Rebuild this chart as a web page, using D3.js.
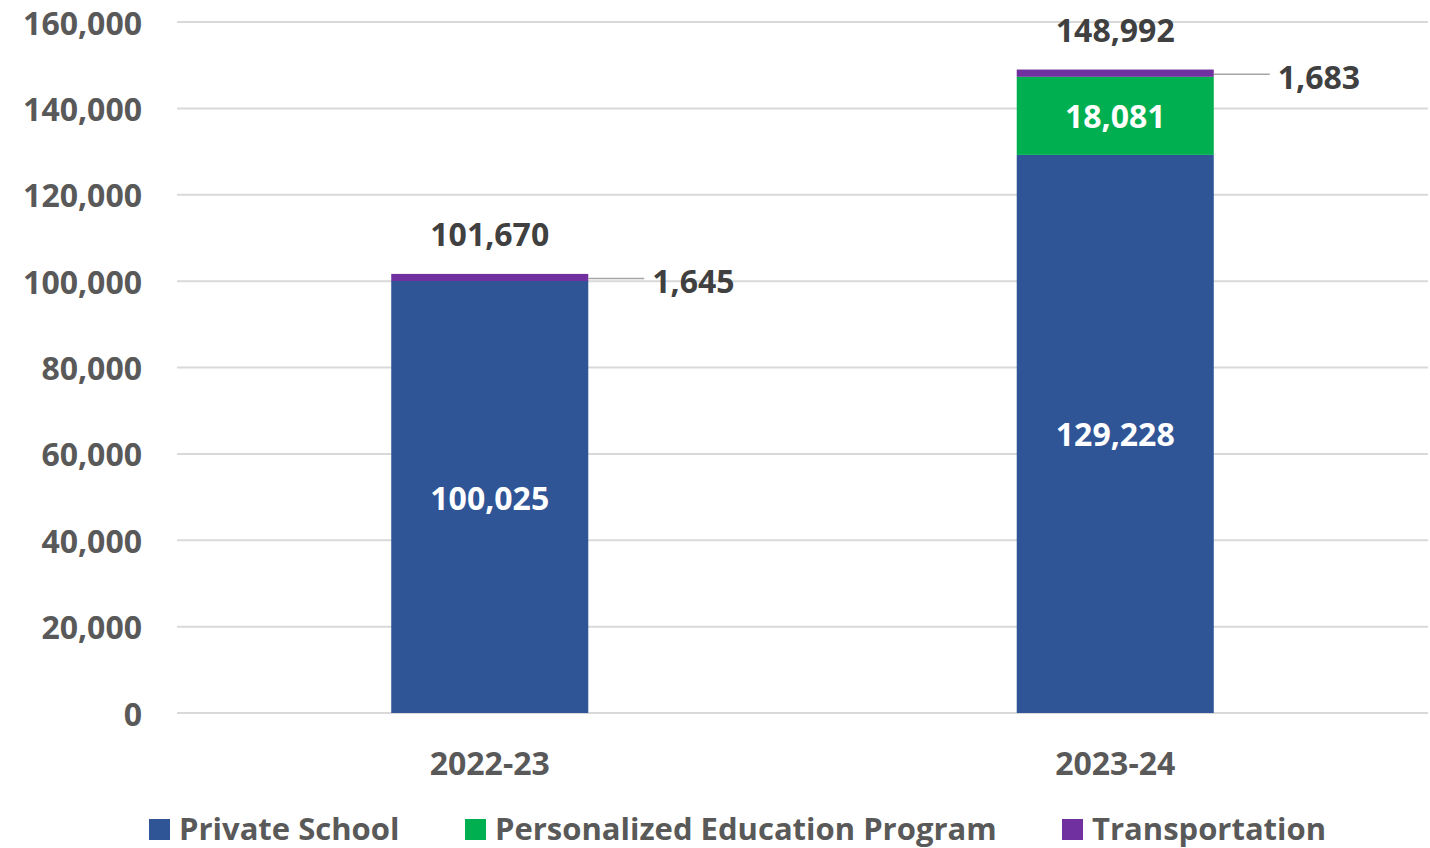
<!DOCTYPE html>
<html>
<head>
<meta charset="utf-8">
<script src="https://cdn.jsdelivr.net/npm/d3@7"></script>
<style>
  body { margin: 0; background: #fff; }
  svg { display: block; font-family: "Open Sans", sans-serif; font-weight: bold; }
</style>
</head>
<body>
<div id="chart"></div>
<script>
// Chart values
var years = ["2022-23", "2023-24"];
var seriesNames = ["Private School", "Personalized Education Program", "Transportation"];
var privateSchool = [100025, 129228];
var personalized = [0, 18081];
var transportation = [1645, 1683];
var yTicks = [0, 20000, 40000, 60000, 80000, 100000, 120000, 140000, 160000];

var width = 1430, height = 848;
var margin = ({ top: 22, right: 2, bottom: 135, left: 177 });
var colour = d3.scaleOrdinal().domain(seriesNames).range(["#2F5597", "#00B050", "#7030A0"]);
var fmt = d3.format(",");

// Build the table the stack layout needs
var table = years.map(function (y, i) {
    return { year: y, "Private School": privateSchool[i], "Personalized Education Program": personalized[i], "Transportation": transportation[i] };
});
var stacked = d3.stack().keys(seriesNames)(table);

var x = d3.scaleBand().domain(years).range([margin.left, width - margin.right])
    .paddingInner(0.685).paddingOuter(0.3425);
var y = d3.scaleLinear().domain([0, 160000]).range([height - margin.bottom, margin.top]);

const svg = d3.select("#chart").append("svg")
    .attr("width", width)
    .attr("height", height);

// Gridlines
svg.append("g")
    .selectAll("line")
    .data(yTicks)
    .join("line")
    .attr("x1", margin.left)
    .attr("x2", width - margin.right)
    .attr("y1", d => y(d))
    .attr("y2", d => y(d))
    .attr("stroke", "#d9d9d9")
    .attr("stroke-width", 2);

// Y axis labels
svg.append("g")
    .selectAll("text")
    .data(yTicks)
    .join("text")
    .attr("x", 142)
    .attr("y", d => y(d))
    .attr("text-anchor", "end")
    .attr("dominant-baseline", "central")
    .attr("font-size", 32)
    .attr("fill", "#595959")
    .text(d => fmt(d));

// X axis labels
svg.append("g")
    .selectAll("text")
    .data(years)
    .join("text")
    .attr("x", d => x(d) + x.bandwidth() / 2)
    .attr("y", 762)
    .attr("text-anchor", "middle")
    .attr("dominant-baseline", "central")
    .attr("font-size", 32)
    .attr("fill", "#595959")
    .text(d => d);

// Bars
svg.append("g")
    .selectAll("g")
    .data(stacked)
    .join("g")
    .attr("fill", d => colour(d.key))
    .selectAll("rect")
    .data(d => d.filter(s => s[1] > s[0]))
    .join("rect")
    .attr("x", d => x(d.data.year))
    .attr("y", d => y(d[1]))
    .attr("width", x.bandwidth())
    .attr("height", d => y(d[0]) - y(d[1]));

// White labels inside the big segments
var inner = stacked.slice(0, 2).flatMap(layer => layer.filter(s => s[1] > s[0]));
svg.append("g")
    .selectAll("text")
    .data(inner)
    .join("text")
    .attr("x", d => x(d.data.year) + x.bandwidth() / 2)
    .attr("y", d => (y(d[0]) + y(d[1])) / 2)
    .attr("text-anchor", "middle")
    .attr("dominant-baseline", "central")
    .attr("font-size", 32)
    .attr("fill", "white")
    .text(d => fmt(d[1] - d[0]));

// Transportation callouts: leader line + label to the right
var trans = stacked[2];
var callout = svg.append("g");
callout.selectAll("line")
    .data(trans)
    .join("line")
    .attr("x1", d => x(d.data.year) + x.bandwidth())
    .attr("x2", d => x(d.data.year) + x.bandwidth() + 56)
    .attr("y1", d => (y(d[0]) + y(d[1])) / 2 + 1)
    .attr("y2", d => (y(d[0]) + y(d[1])) / 2 + 1)
    .attr("stroke", "#a6a6a6")
    .attr("stroke-width", 1.5);
callout.selectAll("text")
    .data(trans)
    .join("text")
    .attr("x", d => x(d.data.year) + x.bandwidth() + 64)
    .attr("y", d => (y(d[0]) + y(d[1])) / 2 + 3)
    .attr("dominant-baseline", "central")
    .attr("font-size", 32)
    .attr("fill", "#404040")
    .text(d => fmt(d[1] - d[0]));

// Totals above each bar
svg.append("g")
    .selectAll("text")
    .data(trans)
    .join("text")
    .attr("x", d => x(d.data.year) + x.bandwidth() / 2)
    .attr("y", d => y(d[1]) - 40)
    .attr("text-anchor", "middle")
    .attr("dominant-baseline", "central")
    .attr("font-size", 32)
    .attr("fill", "#404040")
    .text(d => fmt(d[1]));

// Legend
var legendX = [149, 465, 1062];
var legend = svg.append("g")
    .selectAll("g")
    .data(seriesNames)
    .join("g")
    .attr("transform", (d, i) => `translate(${legendX[i]}, 828)`);
legend.append("rect")
    .attr("x", 0)
    .attr("y", -9)
    .attr("width", 21)
    .attr("height", 21)
    .attr("fill", d => colour(d));
legend.append("text")
    .attr("x", 30)
    .attr("y", 0)
    .attr("dominant-baseline", "central")
    .attr("font-size", 31)
    .attr("fill", "#595959")
    .text(d => d);
</script>
</body>
</html>
